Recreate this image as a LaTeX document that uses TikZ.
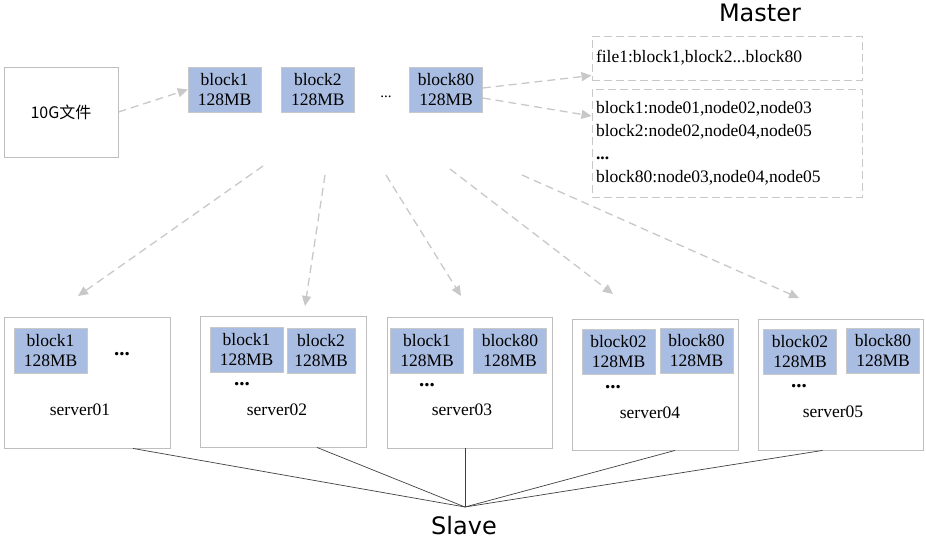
\documentclass[tikz,border=0pt]{standalone}
\usepackage{fontspec}
\setmainfont{Liberation Serif}
\newfontfamily\sansf{DejaVu Sans}
\newfontfamily\cjk{Noto Sans CJK SC}
\usetikzlibrary{positioning,arrows.meta}
\definecolor{blkblue}{HTML}{A9BDE2}
\definecolor{lgray}{HTML}{C8C8C8}
\definecolor{bgray}{HTML}{BEBEBE}

\begin{document}
\begin{tikzpicture}[
  x=1pt, y=-1pt,
  font=\fontsize{17.5}{20}\selectfont,
  blk/.style={draw=lgray, fill=blkblue, minimum width=73pt, minimum height=45pt, inner sep=0pt, align=center},
  srv/.style={draw=bgray, line width=0.9pt, minimum width=166pt, minimum height=131pt, inner sep=0pt},
  mbox/.style={draw=lgray, line width=1pt, dash pattern=on 8pt off 4pt, minimum width=270pt, text width=262pt, inner xsep=4pt, inner ysep=0pt, align=left},
  dots/.style={font=\fontsize{21}{21}\selectfont\bfseries, inner sep=0pt, text height=4pt, text depth=0pt},
  title/.style={font=\sansf\fontsize{24}{24}\selectfont, anchor=base, inner sep=0pt, text depth=0pt},
  arr/.style={draw=lgray, line width=1.3pt, dash pattern=on 8pt off 5pt, -{Triangle[length=10pt,width=9pt]}},
  hubline/.style={draw=black!75, line width=0.7pt}
]
  \useasboundingbox (0,0) rectangle (926,538);

  % source file and its blocks
  \node[draw=bgray, line width=0.9pt, minimum width=114pt, minimum height=90pt, font=\cjk\fontsize{16}{18}\selectfont] (file) at (61,112) {10G文件};
  \node[blk] (b1) at (224.5,89.5) {block1\\128MB};
  \node[blk, right=20pt of b1] (b2) {block2\\128MB};
  \node[font=\fontsize{15}{15}\selectfont] (bdots) at (386,97) {...};
  \node[blk] (b80) at (446,89.5) {block80\\128MB};

  % master
  \node[title] (master) at (760,21.5) {Master};
  \node[mbox, minimum height=44pt] (mfile) at (727,58) {file1:block1,block2...block80};
  \node[mbox, minimum height=108pt, font=\fontsize{17.5}{23}\selectfont] (mmap) at (727,143)
    {block1:node01,node02,node03\\block2:node02,node04,node05\\\textbf{...}\\block80:node03,node04,node05};

  \draw[arr] (file.east) -- (b1.west);
  \draw[arr] ([yshift=1.5pt]b80.east) -- ([yshift=5pt]mfile.south west);
  \draw[arr] ([yshift=-8.5pt]b80.east) -- ([yshift=27pt]mmap.west);

  % slaves
  \node[srv] (s1) at (87,382.5) {};
  \node[blk] (s1a) at (50.5,350.5) {block1\\128MB};
  \node[dots] (s1d) at (122,353) {...};
  \node (s1n) at (80,410) {server01};

  \node[srv] (s2) at (283,381.5) {};
  \node[blk] (s2a) at (246.5,349.5) {block1\\128MB};
  \node[blk, minimum width=68pt] (s2b) at (321,350.5) {block2\\128MB};
  \node[dots] (s2d) at (242,383) {...};
  \node (s2n) at (277,410) {server02};

  \node[srv, minimum width=165pt] (s3) at (469.5,382.5) {};
  \node[blk] (s3a) at (427,350.5) {block1\\128MB};
  \node[blk] (s3b) at (510,350.5) {block80\\128MB};
  \node[dots] (s3d) at (427,384) {...};
  \node (s3n) at (462,410) {server03};

  \node[srv] (s4) at (655,384.5) {};
  \node[blk] (s4a) at (618.5,352) {block02\\128MB};
  \node[blk] (s4b) at (696.5,351) {block80\\128MB};
  \node[dots] (s4d) at (613,386) {...};
  \node (s4n) at (650,413) {server04};

  \node[srv, minimum width=165pt] (s5) at (840.5,384.5) {};
  \node[blk] (s5a) at (800,352) {block02\\128MB};
  \node[blk] (s5b) at (883,351) {block80\\128MB};
  \node[dots] (s5d) at (799,385) {...};
  \node (s5n) at (833,412) {server05};

  % replica arrows
  \coordinate (d1s) at (263,166); \coordinate (d1e) at (78,296);
  \coordinate (d2s) at (325,175); \coordinate (d2e) at (305,306);
  \coordinate (d3s) at (386,175); \coordinate (d3e) at (461,296);
  \coordinate (d4s) at (450,169); \coordinate (d4e) at (613,294);
  \coordinate (d5s) at (522,175); \coordinate (d5e) at (799,298);
  \foreach \i in {1,...,5}
    \draw[arr] (d\i s) -- (d\i e);

  % slave group
  \coordinate (hub) at (465,507);
  \draw[hubline] ([xshift=46pt]s1.south) -- (hub);
  \draw[hubline] ([xshift=34pt]s2.south) -- (hub);
  \draw[hubline] ([xshift=-4.5pt]s3.south) -- (hub);
  \draw[hubline] ([xshift=20pt]s4.south) -- (hub);
  \draw[hubline] ([xshift=-18pt]s5.south) -- (hub);
  \node[title] (slave) at (464,534.5) {Slave};
\end{tikzpicture}
\end{document}
